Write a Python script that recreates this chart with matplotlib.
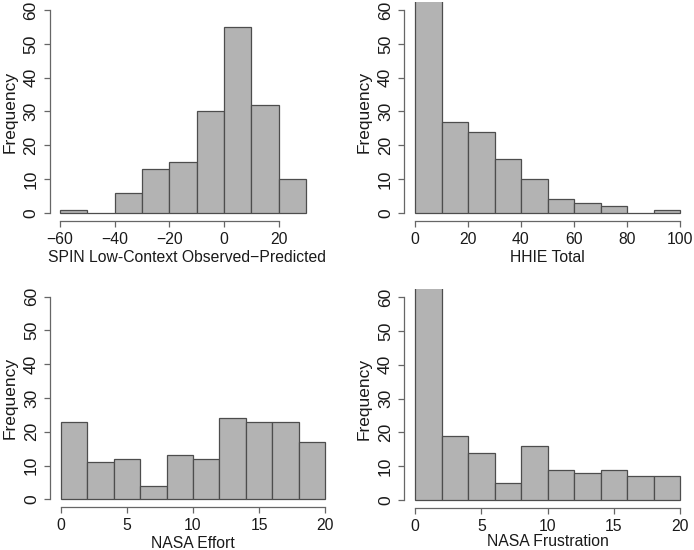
import numpy as np
import matplotlib
matplotlib.use("Agg")
import matplotlib.pyplot as plt

plt.rcParams['font.family'] = ['Liberation Sans', 'DejaVu Sans']

# histogram counts
spin_edges = [-60, -50, -40, -30, -20, -10, 0, 10, 20, 30]
spin_counts = [1, 0, 6, 13, 15, 30, 55, 32, 10]

hhie_edges = [0, 10, 20, 30, 40, 50, 60, 70, 80, 90, 100]
hhie_counts = [75, 27, 24, 16, 10, 4, 3, 2, 0, 1]

effort_edges = [0, 2, 4, 6, 8, 10, 12, 14, 16, 18, 20]
effort_counts = [23, 11, 12, 4, 13, 12, 24, 23, 23, 17]

frust_edges = [0, 2, 4, 6, 8, 10, 12, 14, 16, 18, 20]
frust_counts = [68, 19, 14, 5, 16, 9, 8, 9, 7, 7]

spin_ticks = [-60, -40, -20, 0, 20]
hhie_ticks = [0, 20, 40, 60, 80, 100]
nasa_ticks = [0, 5, 10, 15, 20]
y_ticks = [0, 10, 20, 30, 40, 50, 60]

W, H = 694, 550
fig = plt.figure(figsize=(W / 100, H / 100), dpi=100)

FILL = "#B3B3B3"
EDGE = "#4D4D4D"
AXC = "#666666"
TXT = "#1A1A1A"
FS_X = 11.3   # horizontal text
FS_Y = 12.5   # rotated text on the y axis


def panel(box, edges, counts, xticks, xlabel, xlab_y, xlab_x=None):
    left, top, right, bottom = box
    ax = fig.add_axes([left / W, 1 - bottom / H, (right - left) / W, (bottom - top) / H])
    widths = np.diff(edges)
    ax.bar(edges[:-1], counts, width=widths, align="edge",
           color=FILL, edgecolor=EDGE, linewidth=0.9)
    span = edges[-1] - edges[0]
    ax.set_xlim(edges[0] - 0.04 * span, edges[-1] + 0.04 * span)
    ax.set_ylim(-2.4, 62.4)
    ax.set_xticks(xticks)
    ax.set_yticks(y_ticks)
    ax.set_yticklabels([str(v) for v in y_ticks], rotation=90, va="center")
    for s in ["top", "right"]:
        ax.spines[s].set_visible(False)
    ax.spines["left"].set_bounds(0, 60)
    ax.spines["bottom"].set_bounds(xticks[0], xticks[-1])
    for s in ["left", "bottom"]:
        ax.spines[s].set_color(AXC)
        ax.spines[s].set_linewidth(0.9)
    ax.tick_params(axis="both", direction="out", length=4.2, width=0.9,
                   color=AXC, labelcolor=TXT)
    ax.tick_params(axis="y", pad=4, labelsize=FS_Y)
    ax.tick_params(axis="x", pad=3.5, labelsize=FS_X)
    ax.set_facecolor("none")
    # axis titles at pixel positions like the original
    if xlab_x is None:
        xlab_x = (left + right) / 2
    ax.set_xlabel(xlabel, fontsize=FS_X, color=TXT, va="center")
    ax.xaxis.set_label_coords((xlab_x - left) / (right - left),
                              (bottom - xlab_y) / (bottom - top))
    ax.set_ylabel("Frequency", fontsize=FS_Y, color=TXT, va="center")
    ax.yaxis.set_label_coords(-40 / (right - left), 0.5)
    return ax


panel((50, 1.9, 316, 221.1), spin_edges, spin_counts, spin_ticks,
      "SPIN Low-Context Observed\u2212Predicted", 257, xlab_x=187)
panel((404.4, 1.9, 690.6, 221.1), hhie_edges, hhie_counts, hhie_ticks,
      "HHIE Total", 257)
panel((50.4, 288.6, 335.6, 507.4), effort_edges, effort_counts, nasa_ticks,
      "NASA Effort", 543)
panel((404.4, 288.9, 690.6, 508.1), frust_edges, frust_counts, nasa_ticks,
      "NASA Frustration", 542)

fig.savefig("out.png", dpi=100)
